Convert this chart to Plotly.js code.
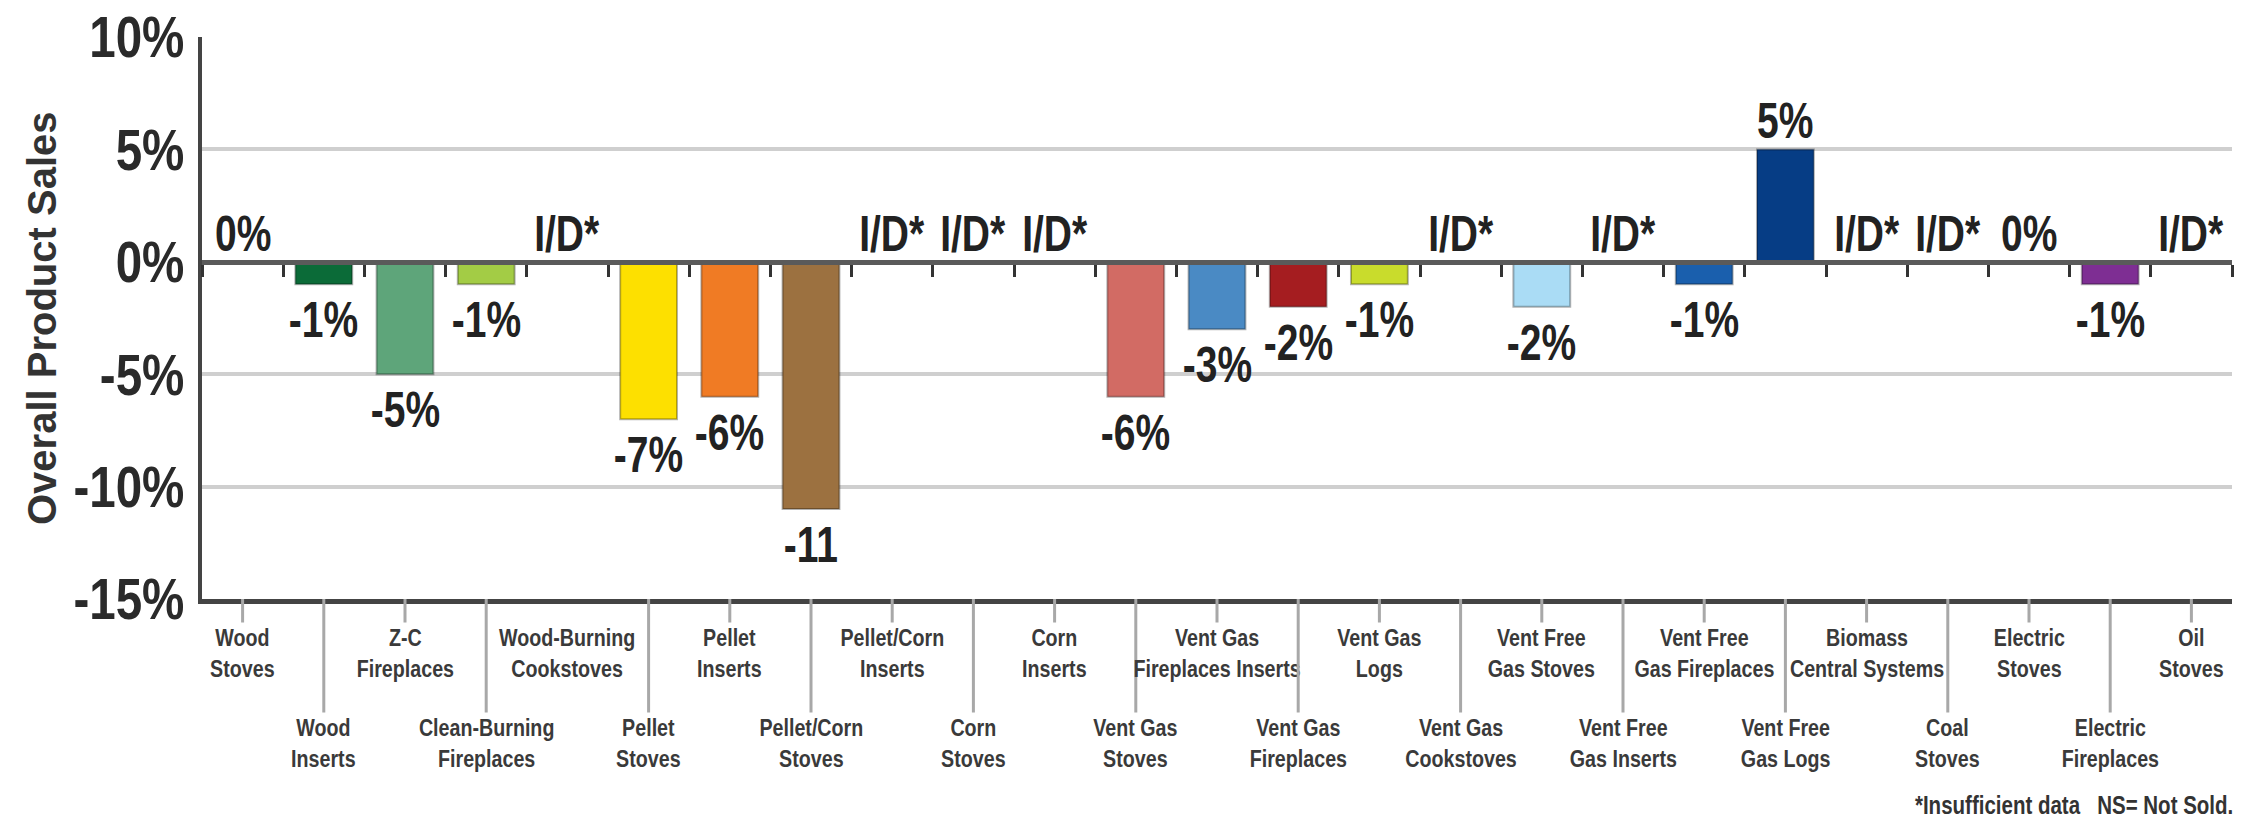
<!DOCTYPE html>
<html>
<head>
<meta charset="utf-8">
<script src="https://cdn.plot.ly/plotly-3.0.1.min.js"></script>
<style>
  html, body { margin: 0; padding: 0; background: #ffffff; }
  #chart { width: 2244px; height: 818px; }
</style>
</head>
<body>
<div id="chart"></div>
<script>
// ---- Data ----
const categories = [
  'Wood Stoves', 'Wood Inserts', 'Z-C Fireplaces', 'Clean-Burning Fireplaces',
  'Wood-Burning Cookstoves', 'Pellet Stoves', 'Pellet Inserts', 'Pellet/Corn Stoves',
  'Pellet/Corn Inserts', 'Corn Stoves', 'Corn Inserts', 'Vent Gas Stoves',
  'Vent Gas Fireplaces Inserts', 'Vent Gas Fireplaces', 'Vent Gas Logs', 'Vent Gas Cookstoves',
  'Vent Free Gas Stoves', 'Vent Free Gas Inserts', 'Vent Free Gas Fireplaces', 'Vent Free Gas Logs',
  'Biomass Central Systems', 'Coal Stoves', 'Electric Stoves', 'Electric Fireplaces', 'Oil Stoves'
];
const categoryLabels = [
  'Wood<br>Stoves', 'Wood<br>Inserts', 'Z-C<br>Fireplaces', 'Clean-Burning<br>Fireplaces',
  'Wood-Burning<br>Cookstoves', 'Pellet<br>Stoves', 'Pellet<br>Inserts', 'Pellet/Corn<br>Stoves',
  'Pellet/Corn<br>Inserts', 'Corn<br>Stoves', 'Corn<br>Inserts', 'Vent Gas<br>Stoves',
  'Vent Gas<br>Fireplaces Inserts', 'Vent Gas<br>Fireplaces', 'Vent Gas<br>Logs', 'Vent Gas<br>Cookstoves',
  'Vent Free<br>Gas Stoves', 'Vent Free<br>Gas Inserts', 'Vent Free<br>Gas Fireplaces', 'Vent Free<br>Gas Logs',
  'Biomass<br>Central Systems', 'Coal<br>Stoves', 'Electric<br>Stoves', 'Electric<br>Fireplaces', 'Oil<br>Stoves'
];
// percent change; null = insufficient data
const salesChange = [0, -1, -5, -1, null, -7, -6, -11, null, null, null, -6, -3, -2, -1, null, -2, null, -1, 5, null, null, 0, -1, null];
const valueLabels = ['0%', '-1%', '-5%', '-1%', 'I/D*', '-7%', '-6%', '-11', 'I/D*', 'I/D*', 'I/D*', '-6%', '-3%', '-2%', '-1%', 'I/D*', '-2%', 'I/D*', '-1%', '5%', 'I/D*', 'I/D*', '0%', '-1%', 'I/D*'];
const barColors = [
  '#0b6b38', '#0b6b38', '#5ea57a', '#a3cc45', '#cccccc', '#fde000', '#f07b24', '#9c7140',
  '#cccccc', '#cccccc', '#cccccc', '#d26b64', '#4a8ac4', '#a51d20', '#c9dc2c', '#cccccc',
  '#aadcf5', '#cccccc', '#1a5fad', '#063d85', '#cccccc', '#cccccc', '#7e2e93', '#7e2e93', '#cccccc'
];
const yTickVals = [-15, -10, -5, 0, 5, 10];
const yTickText = ['-15%', '-10%', '-5%', '0%', '5%', '10%'];
const yRange = [-15, 10];
const yTitle = 'Overall Product Sales';
const footnote = '*Insufficient data&nbsp;&nbsp;&nbsp;NS= Not Sold.';

// ---- Styling ----
const SANS = '"Liberation Sans", Arial, Helvetica, sans-serif';
const NARROW_TICK = 0.82, NARROW_VALUE = 0.78, NARROW_CAT = 0.82, NARROW_NOTE = 0.82;

const barTrace = {
  type: 'bar',
  x: categories,
  y: salesChange,
  xaxis: 'x',
  yaxis: 'y',
  marker: { color: barColors, line: { color: 'rgba(0,0,0,0.3)', width: 2 } },
  width: 0.7,
  hoverinfo: 'skip',
  showlegend: false
};
// carrier trace so the zero-line axis knows the categories
const zeroAxisTrace = {
  type: 'scatter',
  mode: 'markers',
  x: categories,
  y: salesChange,
  xaxis: 'x2',
  yaxis: 'y',
  marker: { opacity: 0, size: 1 },
  hoverinfo: 'skip',
  showlegend: false
};

const annotations = [];
const annScale = [];
// value labels
categories.forEach((c, i) => {
  const v = salesChange[i];
  const neg = v !== null && v < 0;
  annotations.push({
    xref: 'x', yref: 'y', x: c, y: v === null ? 0 : v,
    text: valueLabels[i], showarrow: false,
    yanchor: neg ? 'top' : 'bottom', yshift: neg ? -6 : -2,
    font: { family: SANS, size: 50, color: '#222222', weight: 'bold' }
  });
  annScale.push(NARROW_VALUE);
});
// category labels with leader lines (alternating rows)
categories.forEach((c, i) => {
  const lower = i % 2 === 1;
  annotations.push({
    xref: 'x', yref: 'paper', x: c, y: 0,
    text: categoryLabels[i], showarrow: true, arrowhead: 0,
    arrowcolor: '#a8a8a8', arrowwidth: 3,
    ax: 0, ay: lower ? 144 : 54,
    font: { family: SANS, size: 24, color: '#3a3a3a', weight: 'bold' },
    align: 'center'
  });
  annScale.push(NARROW_CAT);
});
annotations.push({
  xref: 'paper', yref: 'paper', x: 1, y: 0, xanchor: 'right', yanchor: 'middle',
  yshift: -206, xshift: 38, showarrow: false, text: footnote,
  font: { family: SANS, size: 25, color: '#333333', weight: 'bold' }
});
annScale.push(NARROW_NOTE);
// y-axis title
annotations.push({
  xref: 'paper', yref: 'paper', x: 0, y: 0.5, xanchor: 'center', yanchor: 'middle',
  xshift: -160, textangle: -90, showarrow: false, text: yTitle,
  font: { family: SANS, size: 40, color: '#333333', weight: 'bold' }
});
annScale.push(1);

const layout = {
  width: 2244, height: 818,
  margin: { l: 202, r: 12, t: 37, b: 219 },
  paper_bgcolor: '#ffffff', plot_bgcolor: '#ffffff',
  showlegend: false,
  xaxis: {
    type: 'category', range: [-0.5, categories.length - 0.5],
    showline: true, linecolor: '#444444', linewidth: 5,
    showgrid: false, zeroline: false, ticks: '', showticklabels: false,
    fixedrange: true
  },
  xaxis2: {
    type: 'category', overlaying: 'x', anchor: 'free',
    position: (0 - yRange[0]) / (yRange[1] - yRange[0]),
    range: [-0.5, categories.length - 0.5],
    showline: true, linecolor: '#5a5a5a', linewidth: 5,
    ticks: 'outside', tickson: 'boundaries', ticklen: 12, tickwidth: 3, tickcolor: '#333333',
    showticklabels: false, showgrid: false, zeroline: false, side: 'bottom',
    fixedrange: true
  },
  yaxis: {
    range: yRange, tickvals: yTickVals, ticktext: yTickText,
    showline: true, linecolor: '#444444', linewidth: 4,
    showgrid: true, gridcolor: '#cfcfcf', gridwidth: 4,
    zeroline: false, ticks: '', ticklabelstandoff: 2,
    tickfont: { family: SANS, size: 58, color: '#2a2a2a', weight: 'bold' },
    fixedrange: true
  },
  bargap: 0.3,
  annotations: annotations
};

function condense(textEl, s) {
  if (!textEl || s === 1) return;
  const x = parseFloat(textEl.getAttribute('x')) || 0;
  const prev = textEl.getAttribute('transform') || '';
  textEl.setAttribute('transform',
    (prev + ' translate(' + x + ',0) scale(' + s + ',1) translate(' + (-x) + ',0)').trim());
}

Plotly.newPlot('chart', [barTrace, zeroAxisTrace], layout, { displayModeBar: false, staticPlot: true })
  .then(function (gd) {
    gd.querySelectorAll('.ytick text').forEach(function (t) { condense(t, NARROW_TICK); });
    gd.querySelectorAll('g.annotation').forEach(function (g) {
      const idx = parseInt(g.getAttribute('data-index'), 10);
      const t = g.querySelector('text.annotation-text');
      condense(t, annScale[idx]);
    });
  });
</script>
</body>
</html>
